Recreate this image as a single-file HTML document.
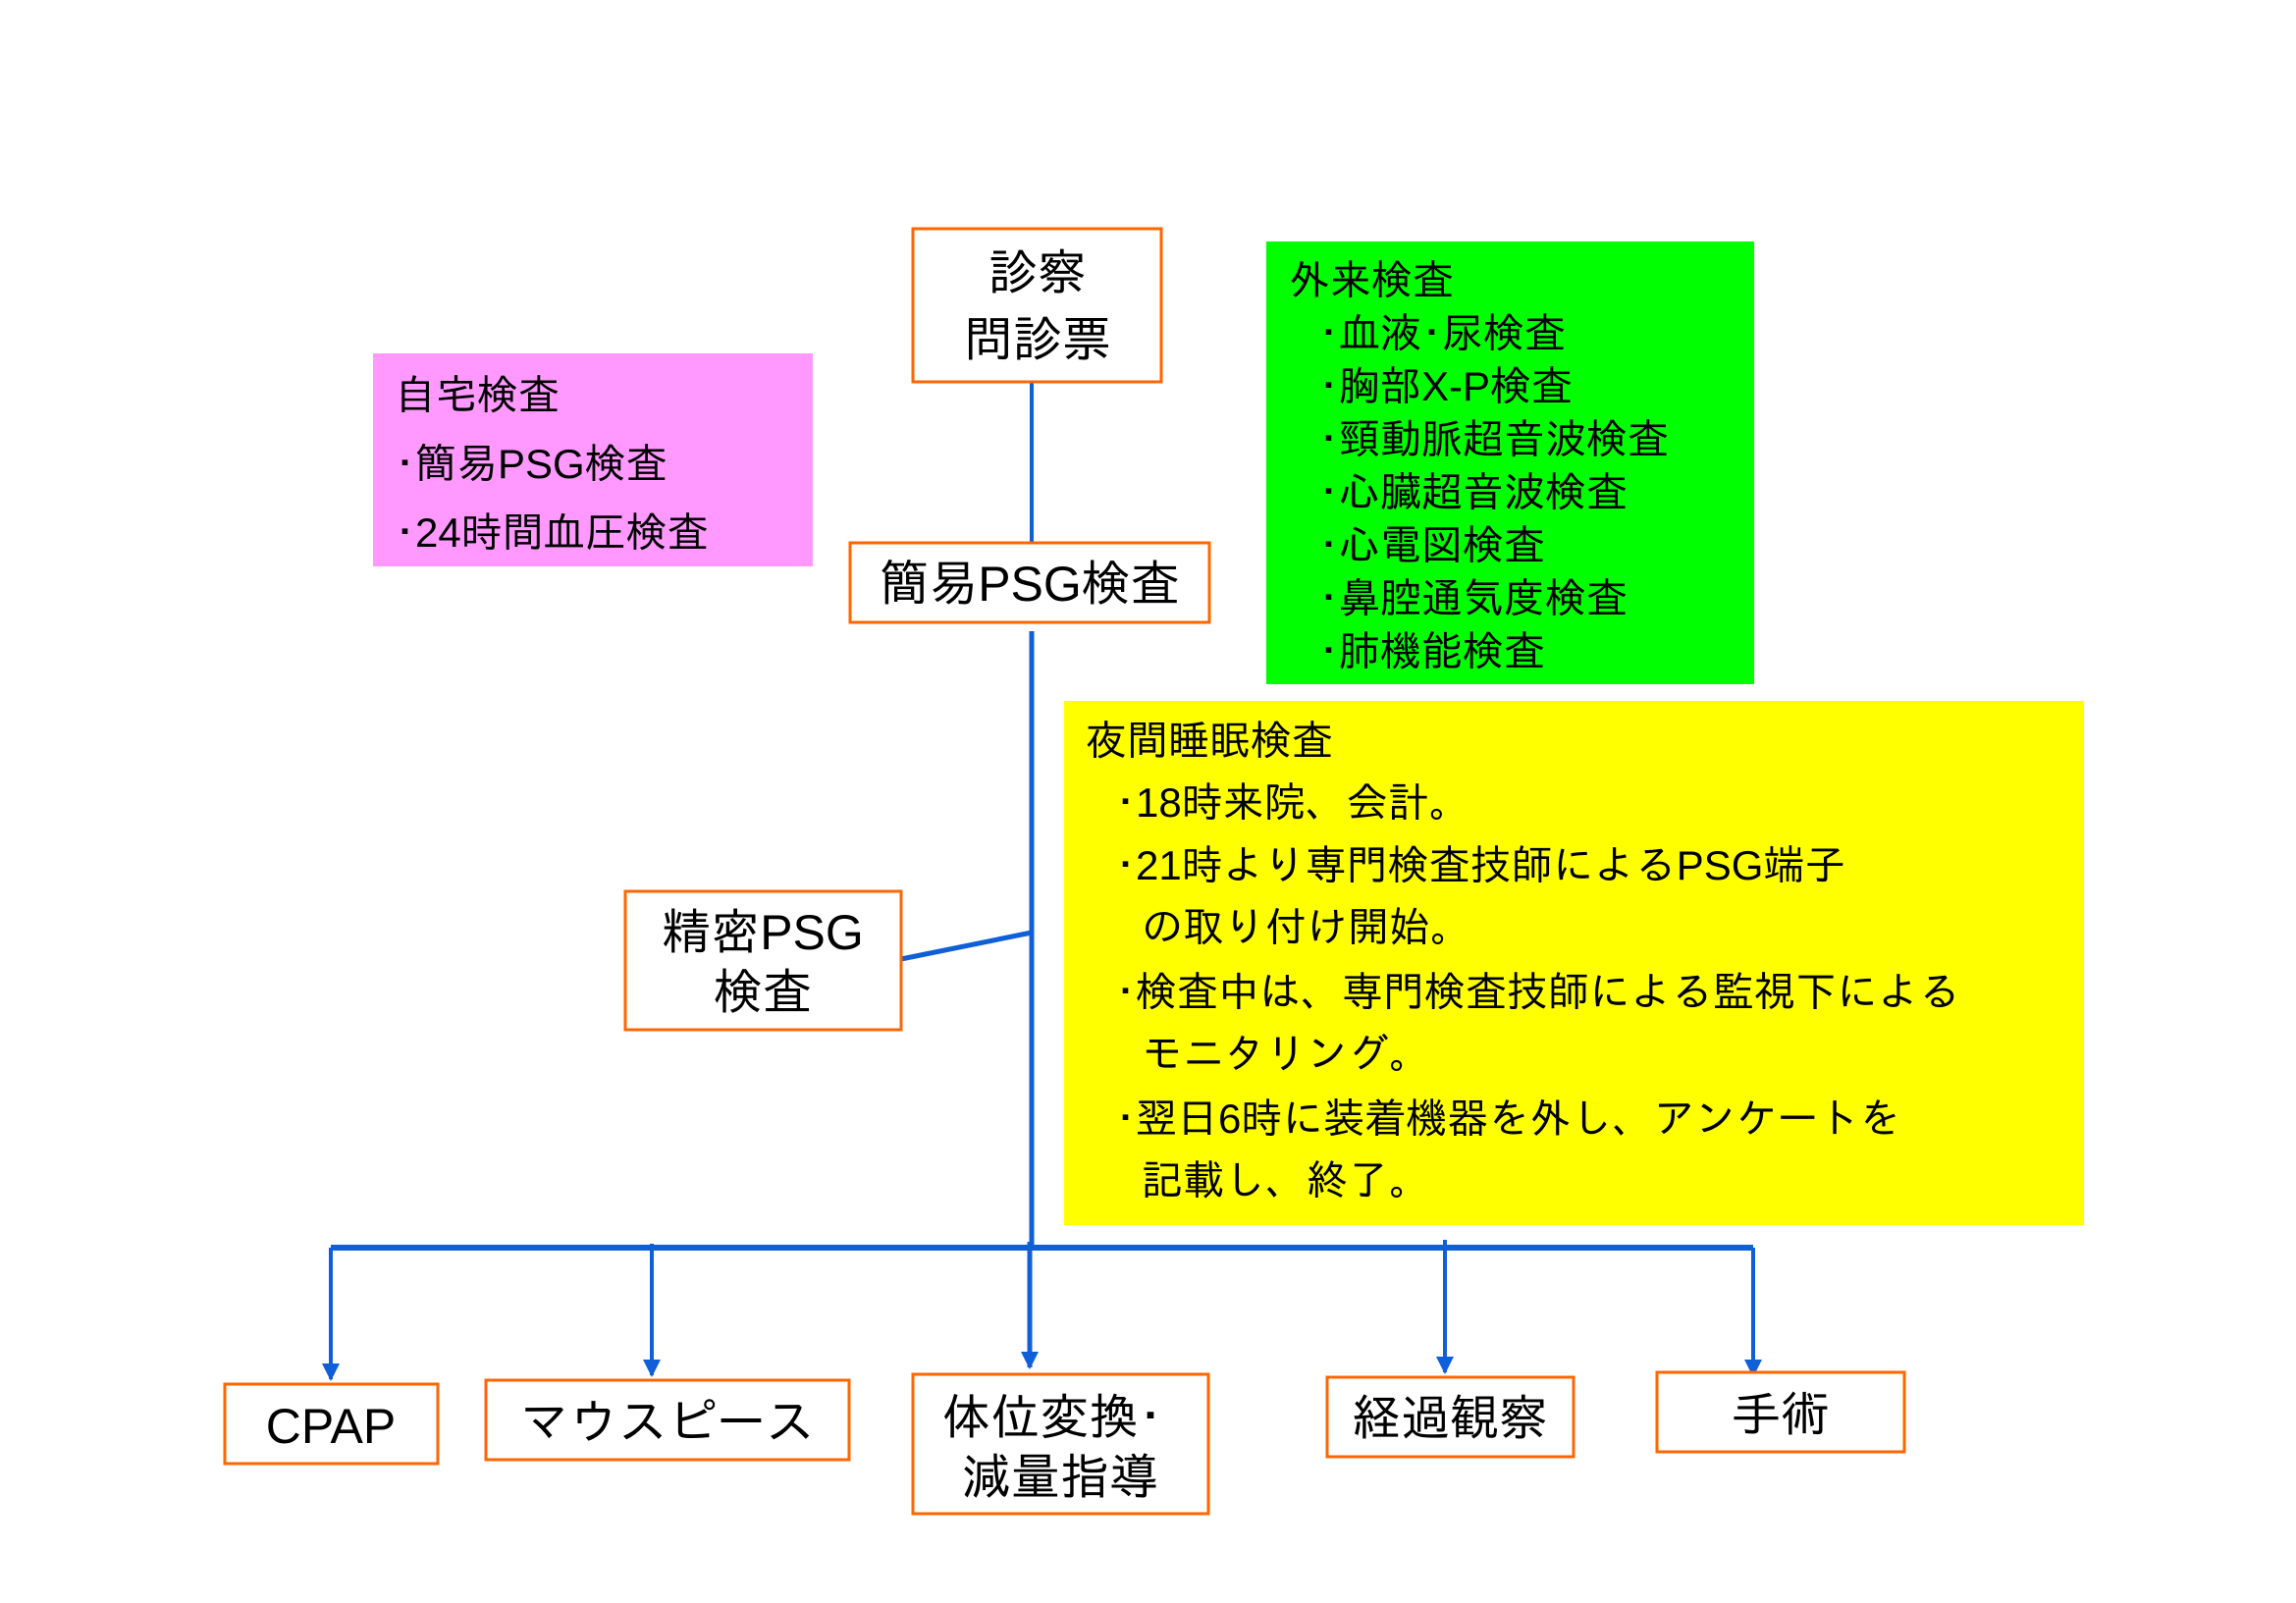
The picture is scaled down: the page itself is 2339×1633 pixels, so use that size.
<!DOCTYPE html>
<html><head><meta charset="utf-8"><style>
html,body{margin:0;padding:0;background:#fff;}
svg{display:block;}
text{font-family:"Liberation Sans","IPAGothic","Noto Sans CJK JP",sans-serif;fill:#000;}
</style></head><body>
<svg width="2339" height="1633" viewBox="0 0 2339 1633" xmlns="http://www.w3.org/2000/svg">
<defs>
<marker id="ah" markerWidth="20" markerHeight="20" refX="16" refY="9" orient="auto" markerUnits="userSpaceOnUse">
<path d="M0,0 L18,9 L0,18 z" fill="#0f5fd8"/>
</marker>
</defs>
<g transform="translate(-3,-3)">
<!-- pink -->
<rect x="383" y="363" width="448" height="217" fill="#ff99ff"/>
<text font-size="42" x="405" y="420">自宅検査</text>
<text font-size="42" x="405" y="490">･簡易PSG検査</text>
<text font-size="42" x="405" y="560">･24時間血圧検査</text>
<!-- green -->
<rect x="1293" y="249" width="497" height="451" fill="#00ff00"/>
<g font-size="42">
<text x="1316" y="303">外来検査</text>
<text x="1346" y="357">･血液･尿検査</text>
<text x="1346" y="411">･胸部X-P検査</text>
<text x="1346" y="465">･頸動脈超音波検査</text>
<text x="1346" y="519">･心臓超音波検査</text>
<text x="1346" y="573">･心電図検査</text>
<text x="1346" y="627">･鼻腔通気度検査</text>
<text x="1346" y="681">･肺機能検査</text>
</g>
<!-- yellow -->
<rect x="1087" y="717" width="1039" height="534" fill="#ffff00"/>
<g font-size="42">
<text x="1109" y="772">夜間睡眠検査</text>
<text x="1139" y="835">･18時来院、会計。</text>
<text x="1139" y="899">･21時より専門検査技師によるPSG端子</text>
<text x="1166" y="962">の取り付け開始。</text>
<text x="1139" y="1028">･検査中は、専門検査技師による監視下による</text>
<text x="1166" y="1091">モニタリング。</text>
<text x="1139" y="1157">･翌日6時に装着機器を外し、アンケートを</text>
<text x="1166" y="1220">記載し、終了。</text>
</g>
<!-- lines -->
<g stroke="#0f5fd8" fill="none">
<line x1="1054" y1="392" x2="1054" y2="556" stroke-width="4"/>
<line x1="1054" y1="646" x2="1054" y2="1275" stroke-width="5"/>
<line x1="921" y1="980" x2="1054" y2="953" stroke-width="5"/>
<line x1="340" y1="1274" x2="1789" y2="1274" stroke-width="6"/>
<line x1="340" y1="1274" x2="340" y2="1408" stroke-width="4" marker-end="url(#ah)"/>
<line x1="667" y1="1270" x2="667" y2="1404" stroke-width="4" marker-end="url(#ah)"/>
<line x1="1052" y1="1268" x2="1052" y2="1396" stroke-width="5" marker-end="url(#ah)"/>
<line x1="1475" y1="1266" x2="1475" y2="1401" stroke-width="4" marker-end="url(#ah)"/>
<line x1="1789" y1="1274" x2="1789" y2="1404" stroke-width="4" marker-end="url(#ah)"/>
</g>
<!-- boxes -->
<g fill="#fff" stroke="#ff6600" stroke-width="3">
<rect x="933" y="236" width="253" height="156"/>
<rect x="869" y="556" width="366" height="81"/>
<rect x="640" y="911" width="281" height="141"/>
<rect x="232" y="1413" width="217" height="81"/>
<rect x="498" y="1409" width="370" height="81"/>
<rect x="933" y="1403" width="301" height="142"/>
<rect x="1355" y="1406" width="251" height="81"/>
<rect x="1691" y="1401" width="252" height="81"/>
</g>
<g font-size="50" text-anchor="middle">
<text x="1060" y="298">診察</text>
<text x="1060" y="366">問診票</text>
<text x="1052" y="615">簡易PSG検査</text>
<text x="780" y="970">精密PSG</text>
<text x="780" y="1031">検査</text>
<text x="340" y="1473">CPAP</text>
<text x="683" y="1469">マウスピース</text>
<text x="1075" y="1464">体位変換･</text>
<text x="1083" y="1525">減量指導</text>
<text x="1480" y="1465">経過観察</text>
<text x="1817" y="1461">手術</text>
</g>
</g>
</svg>
</body></html>
